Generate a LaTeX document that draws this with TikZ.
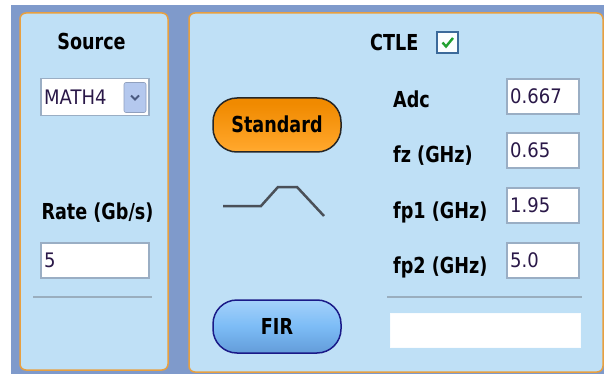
\documentclass[tikz,border=0pt]{standalone}
\usepackage{fontspec}
\setmainfont{DejaVu Sans}
\newfontfamily\lblfont[FakeStretch=0.8]{DejaVu Sans}
\newfontfamily\valfont[FakeStretch=0.9]{DejaVu Sans}
\definecolor{bgblue}{HTML}{7F9ACB}
\definecolor{panelfill}{HTML}{BFE0F6}
\definecolor{panelline}{HTML}{E8A040}
\definecolor{boxline}{HTML}{9AAEC4}
\definecolor{sepline}{HTML}{9AAEBE}
\definecolor{valtext}{HTML}{2A1848}
\definecolor{curvecol}{HTML}{4A5058}
\definecolor{otop}{HTML}{B05A00}
\definecolor{omid}{HTML}{F08A00}
\definecolor{omid2}{HTML}{FFA528}
\definecolor{obot}{HTML}{FFC870}
\definecolor{btop}{HTML}{CDE6FF}
\definecolor{bmid}{HTML}{7CBCF6}
\definecolor{bbot}{HTML}{4A7CBC}
\definecolor{navyline}{HTML}{1A1A88}
\definecolor{ddfill}{HTML}{B4C8EE}
\definecolor{ddmark}{HTML}{4A5A80}
\definecolor{chkline}{HTML}{3C6A9A}
\definecolor{chkgreen}{HTML}{20A030}
\pgfdeclareverticalshading{orangebtn}{100bp}{color(0bp)=(obot); color(30bp)=(omid2); color(70bp)=(omid); color(92bp)=(omid); color(100bp)=(otop)}
\pgfdeclareverticalshading{bluebtn}{100bp}{color(0bp)=(bbot); color(50bp)=(bmid); color(100bp)=(btop)}
\begin{document}
\begin{tikzpicture}[x=1pt,y=-1pt,
  panel/.style={draw=panelline, line width=1.5pt, fill=panelfill, rounded corners=6pt, inner sep=0pt},
  inbox/.style={draw=boxline, line width=1.5pt, fill=white, inner sep=0pt, minimum height=35pt},
  lbl/.style={font=\lblfont\bfseries\fontsize{22}{24}\selectfont, text height=16pt, text depth=0pt, inner sep=0pt},
  val/.style={font=\valfont\fontsize{20}{22}\selectfont, text=valtext, text height=14.6pt, text depth=0pt, inner sep=0pt, anchor=west},
  sep/.style={draw=sepline, line width=2pt},
  btn/.style={draw, line width=1.5pt, rounded corners=24pt, minimum width=128pt, inner sep=0pt, font=\lblfont\bfseries\fontsize{22}{24}\selectfont, text height=16pt, text depth=0pt}
]
\useasboundingbox (0,0) rectangle (607,374);
\fill[white] (0,0) rectangle (607,374);
\fill[bgblue] (11,5) rectangle (604,374);

% panels
\node[panel, minimum width=148pt, minimum height=357pt] (left) at (94,191.5) {};
\node[panel, minimum width=414pt, minimum height=359pt] (right) at (396,192.5) {};

% left panel content
\node[lbl] (source) at (91.5,42) {Source};
\node[inbox, minimum width=108pt, minimum height=37pt] (combo) at (95,97) {};
\node[val] (math) at (44,97) {MATH4};
\node[draw=ddfill!80!black, line width=0.6pt, fill=ddfill, rounded corners=2pt, minimum width=22pt, minimum height=30pt, inner sep=0pt] (dd) at (135,97.5) {};
\draw[ddmark, line width=2pt] ([shift={(-4,-2)}]dd.center) -- ([shift={(0,2)}]dd.center) -- ([shift={(4,-2)}]dd.center);
\node[lbl] (rate) at (97.5,211) {Rate (Gb/s)};
\node[inbox, minimum width=108pt] (ratebox) at (95,260.5) {};
\node[val] (five) at (44,260.5) {5};
\coordinate (sl1) at (33,297);
\coordinate (sl2) at (152,297);
\draw[sep] (sl1) -- (sl2);

% right panel content
\node[lbl, anchor=west] (ctle) at (370,43) {CTLE};
\node[draw=chkline, line width=1.3pt, fill=white!92!panelfill, minimum size=21pt, inner sep=0pt] (chk) at (447.5,42.5) {};
\draw[chkgreen, line width=2.4pt] ([shift={(-5,0)}]chk.center) -- ([shift={(-1.5,4)}]chk.center) -- ([shift={(5.5,-4.5)}]chk.center);

\node[btn, draw=black!85, shading=orangebtn, minimum height=54pt] (std) at (277,125) {Standard};
\node[btn, draw=navyline, shading=bluebtn, minimum height=53pt] (fir) at (277,326.5) {FIR};

\coordinate (c1) at (223,206);
\coordinate (c2) at (261,206);
\coordinate (c3) at (278,187);
\coordinate (c4) at (297,187);
\coordinate (c5) at (324,216);
\draw[curvecol, line width=2.5pt] (c1) -- (c2) -- (c3) -- (c4) -- (c5);

\node[lbl, anchor=west] (adc) at (393,100) {Adc};
\node[lbl, anchor=west] (fz) at (393,155) {fz (GHz)};
\node[lbl, anchor=west] (fp1) at (393,210) {fp1 (GHz)};
\node[lbl, anchor=west] (fp2) at (393,265) {fp2 (GHz)};

\node[inbox, minimum width=72pt] (adcbox) at (543,96.5) {};
\node[val] (adcv) at (510,96.5) {0.667};
\node[inbox, minimum width=72pt] (fzbox) at (543,150.5) {};
\node[val] (fzv) at (510,150.5) {0.65};
\node[inbox, minimum width=72pt] (fp1box) at (543,205.5) {};
\node[val] (fp1v) at (510,205.5) {1.95};
\node[inbox, minimum width=72pt] (fp2box) at (543,260.5) {};
\node[val] (fp2v) at (510,260.5) {5.0};

\coordinate (sr1) at (387,297);
\coordinate (sr2) at (582,297);
\draw[sep] (sr1) -- (sr2);
\node[fill=white, draw=white!90!panelfill, minimum width=190pt, minimum height=34pt, inner sep=0pt] (msg) at (485,330) {};
\end{tikzpicture}
\end{document}
